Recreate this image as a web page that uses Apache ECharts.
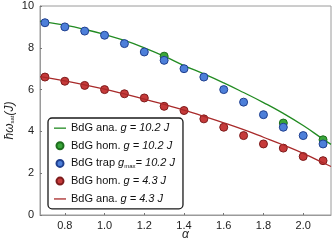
<!DOCTYPE html>
<html><head><meta charset="utf-8">
<script src="https://cdn.jsdelivr.net/npm/echarts@6/dist/echarts.min.js"></script>
<style>html,body{margin:0;padding:0;background:#fff}#c{width:335px;height:242px}</style>
</head><body><div id="c"></div>
<script>
var alpha = [0.7,0.8,0.9,1.0,1.1,1.2,1.3,1.4,1.5,1.6,1.7,1.8,1.9,2.0,2.1];
var trapG102 = [9.2,9.0,8.8,8.6,8.2,7.8,7.4,7.0,6.6,6.0,5.4,4.8,4.2,3.8,3.4];
var homG43 = [6.6,6.4,6.2,6.0,5.8,5.6,5.2,5.0,4.6,4.2,3.8,3.4,3.2,2.8,2.6];
var homG102Alpha = [1.3,1.9,2.1];
var homG102 = [7.6,4.4,3.6];
var anaAlpha = [0.675,0.8,0.9,1.0,1.1,1.2,1.3,1.4,1.5,1.6,1.7,1.8,1.9,2.0,2.1,2.14];
var anaG102 = [9.28,9.08,8.88,8.64,8.35,8.0,7.6,7.15,6.75,6.32,5.86,5.38,4.86,4.28,3.63,3.38];
var anaG43 = [6.62,6.42,6.23,6.02,5.79,5.55,5.29,5.02,4.72,4.41,4.08,3.72,3.35,2.95,2.5,2.32];
var xTicks = [0.8,1.0,1.2,1.4,1.6,1.8,2.0];

function zip(a,b){return a.map(function(v,i){return [v,b[i]];});}
var FONT = 'Liberation Sans';
var LINE_ICON = 'path://M0,0 M0,3.0 L12,3.0 L12,4.3 L0,4.3 Z M12,7';
var chart = echarts.init(document.getElementById('c'), null, {renderer:'canvas'});
var mk = function(fill, border){return {color:fill,borderColor:border,borderWidth:1,opacity:1};};
chart.setOption({
  animation:false,
  backgroundColor:'#fff',
  textStyle:{fontFamily:FONT},
  grid:{left:40,top:6,right:4,bottom:27,outerBoundsMode:'none',containLabel:false,show:true,borderColor:'#9a9a9a',borderWidth:1,backgroundColor:'transparent'},
  xAxis:{type:'value',min:0.675,max:2.14,
    name:'α',nameLocation:'middle',nameGap:14,nameMoveOverlap:false,
    nameTextStyle:{fontFamily:FONT,fontSize:12,fontStyle:'italic',color:'#222'},
    axisLine:{show:true,lineStyle:{color:'#9a9a9a',width:1}},
    axisTick:{show:true,inside:true,length:2,lineStyle:{color:'#777'},customValues:xTicks},
    axisLabel:{color:'#222',fontSize:11,margin:5,customValues:xTicks,formatter:function(v){return v.toFixed(1);}},
    splitLine:{show:false}},
  yAxis:{type:'value',min:0,max:10,interval:2,
    name:'{a|ħω}{s|sat}{a|(J)}',nameLocation:'middle',nameGap:24,nameRotate:90,nameMoveOverlap:false,
    nameTextStyle:{color:'#222',padding:[0,20,0,0],rich:{a:{fontFamily:FONT,fontSize:12,fontStyle:'italic',color:'#222'},s:{fontFamily:FONT,fontSize:6,color:'#222',padding:[5,0,0,0]}}},
    axisLine:{show:true,lineStyle:{color:'#9a9a9a',width:1}},
    axisTick:{show:true,inside:true,length:2,lineStyle:{color:'#777'}},
    axisLabel:{color:'#222',fontSize:11,margin:6},
    splitLine:{show:false}},
  legend:{orient:'vertical',left:48,top:118,
    backgroundColor:'#fff',borderColor:'#1a1a1a',borderWidth:1.3,borderRadius:4,
    padding:[3,8,3,6],itemGap:3.7,itemWidth:12,itemHeight:7,
    textStyle:{fontSize:11,color:'#111',lineHeight:14,
      rich:{n:{fontFamily:FONT,fontSize:11,color:'#111'},i:{fontFamily:FONT,fontSize:11,fontStyle:'italic',color:'#111'},
            s:{fontFamily:FONT,fontSize:6,color:'#111',padding:[6,0,0,0]}}},
    data:[{name:'ana102',icon:LINE_ICON},{name:'hom102'},{name:'trap102'},{name:'hom43'},{name:'ana43',icon:LINE_ICON}],
    formatter:function(n){
      return {ana102:'{n|BdG ana. }{i|g = 10.2 J}',hom102:'{n|BdG hom. }{i|g = 10.2 J}',
        trap102:'{n|BdG trap }{i|g}{s|max}{i|= 10.2 J}',hom43:'{n|BdG hom. }{i|g = 4.3 J}',ana43:'{n|BdG ana. }{i|g = 4.3 J}'}[n];
    }},
  series:[
    {name:'ana102',type:'line',data:zip(anaAlpha,anaG102),smooth:true,symbol:'none',lineStyle:{color:'#228b22',width:1.3},itemStyle:{color:'#228b22'},z:2},
    {name:'hom102',type:'scatter',data:zip(homG102Alpha,homG102),symbol:'circle',symbolSize:8,itemStyle:mk('#3aa63a','#1d6e1d'),z:3},
    {name:'trap102',type:'scatter',data:zip(alpha,trapG102),symbol:'circle',symbolSize:8,itemStyle:mk('#4d7fd9','#20408f'),z:4},
    {name:'hom43',type:'scatter',data:zip(alpha,homG43),symbol:'circle',symbolSize:8,itemStyle:mk('#c63a3a','#7d1c1c'),z:3},
    {name:'ana43',type:'line',data:zip(anaAlpha,anaG43),smooth:true,symbol:'none',lineStyle:{color:'#a82a2a',width:1.3},itemStyle:{color:'#a82a2a'},z:5}
  ]
});
</script></body></html>
